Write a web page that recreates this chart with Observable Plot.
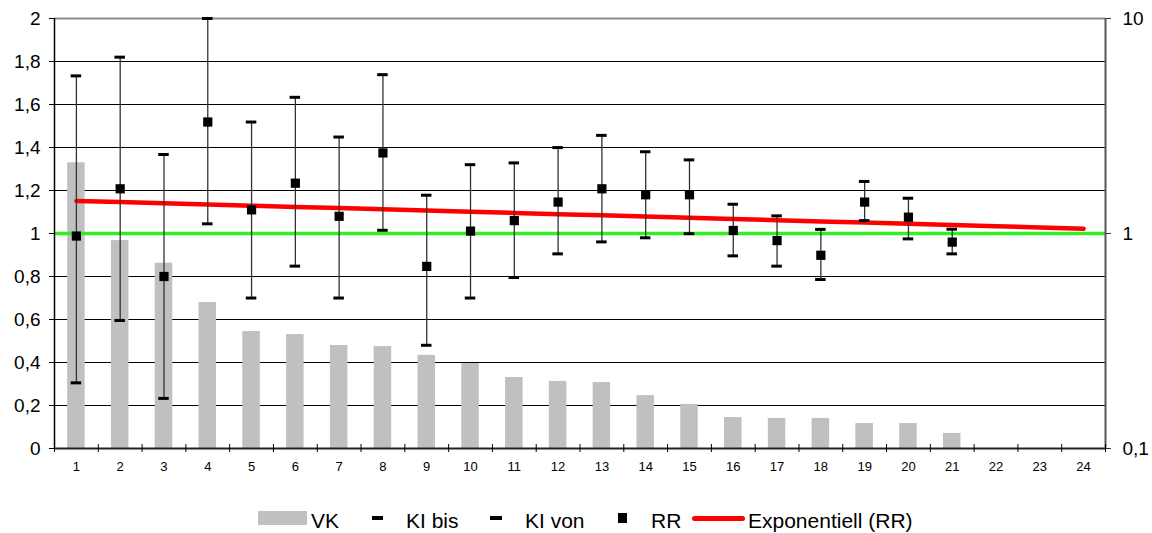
<!DOCTYPE html>
<html>
<head>
<meta charset="utf-8">
<script src="https://cdn.jsdelivr.net/npm/d3@7"></script>
<script src="https://cdn.jsdelivr.net/npm/@observablehq/plot@0.6"></script>
<style>
  html, body { margin: 0; padding: 0; background: #fff; }
  #chart { width: 1152px; }
  #legend { position: relative; width: 1152px; height: 43px; font-family: "Liberation Sans", Arial, sans-serif; font-size: 21px; color: #000; }
  #legend .lbl { position: absolute; white-space: nowrap; line-height: 1; top: 20px; }
</style>
</head>
<body>
<div id="chart"></div>
<div id="legend"></div>
<script>
// ---- data ----
const categories = [1,2,3,4,5,6,7,8,9,10,11,12,13,14,15,16,17,18,19,20,21,22,23,24];
const vk    = [1.329,0.967,0.862,0.679,0.544,0.530,0.479,0.474,0.433,0.395,0.330,0.312,0.307,0.246,0.205,0.144,0.140,0.140,0.116,0.116,0.070,null,null,null];
const rr    = [0.973,1.614,0.631,3.30,1.288,1.714,1.202,2.37,0.703,1.026,1.148,1.40,1.614,1.514,1.514,1.033,0.927,0.792,1.40,1.191,0.912,null,null,null];
const kiBis = [5.41,6.61,2.33,10.0,3.30,4.30,2.81,5.48,1.507,2.09,2.13,2.51,2.86,2.40,2.20,1.368,1.208,1.045,1.746,1.459,1.047,null,null,null];
const kiVon = [0.202,0.394,0.171,1.109,0.501,0.705,0.501,1.035,0.302,0.501,0.624,0.804,0.914,0.955,0.998,0.787,0.705,0.611,1.148,0.944,0.804,null,null,null];
const leftTicks = [0,0.2,0.4,0.6,0.8,1,1.2,1.4,1.6,1.8,2];
const rightTicks = [0.1, 1, 10];
const rightTickLabels = ["0,1", "1", "10"];
const legendLabels = ["VK", "KI bis", "KI von", "RR", "Exponentiell (RR)"];

// right (log) axis 0.1..10 shares the plot height with left axis 0..2
const L = v => Math.log10(v) + 1;

const rows = categories.map((c, i) => ({cat: c, vk: vk[i], rr: rr[i], bis: kiBis[i], von: kiVon[i]}));
const withRR = rows.filter(d => d.rr != null);
const withVK = rows.filter(d => d.vk != null);

// Excel-style exponential trendline: ln(y) = a + b x (least squares)
const mx = d3.mean(withRR, d => d.cat);
const my = d3.mean(withRR, d => Math.log(d.rr));
const b = d3.sum(withRR, d => (d.cat - mx) * (Math.log(d.rr) - my)) / d3.sum(withRR, d => (d.cat - mx) ** 2);
const a = my - b * mx;
const trend = categories.map(c => ({cat: c, v: Math.exp(a + b * c)}));

const xDomain = [categories[0] - 0.5, categories[categories.length - 1] + 0.5];
const boundaries = categories.map(c => c - 0.5).concat([xDomain[1]]);
const comma = v => String(v).replace(".", ",");
const font = "Liberation Sans, Arial, sans-serif";
const rightPos = rightTicks.map(L);

const plot = Plot.plot({
  width: 1152,
  height: 490,
  marginLeft: 54,
  marginRight: 47,
  marginTop: 18,
  marginBottom: 42,
  style: {fontFamily: font, color: "#000", background: "#fff"},
  x: {type: "linear", domain: xDomain, label: null},
  y: {type: "linear", domain: [leftTicks[0], leftTicks[leftTicks.length - 1]], label: null},
  marks: [
    // gridlines
    Plot.ruleY(leftTicks.filter(v => v > 0 && v < 2), {stroke: "#000", strokeWidth: 1}),
    Plot.ruleY([leftTicks[leftTicks.length - 1]], {stroke: "#8c8c8c", strokeWidth: 2}),
    // VK bars
    Plot.rectY(withVK, {x1: d => d.cat - 0.2, x2: d => d.cat + 0.2, y: "vk", fill: "#c0c0c0"}),
    // reference line RR = 1
    Plot.ruleY([L(1)], {stroke: "#33ee22", strokeWidth: 3.5}),
    // trendline
    Plot.line(trend, {x: "cat", y: d => L(d.v), stroke: "#ff0000", strokeWidth: 4.5, strokeLinecap: "round"}),
    // error bars
    Plot.ruleX(withRR, {x: "cat", y1: d => L(d.von), y2: d => L(d.bis), stroke: "#333", strokeWidth: 1.3}),
    Plot.ruleY(withRR, {y: d => L(d.bis), x1: d => d.cat - 0.12, x2: d => d.cat + 0.12, stroke: "#000", strokeWidth: 3}),
    Plot.ruleY(withRR, {y: d => L(d.von), x1: d => d.cat - 0.12, x2: d => d.cat + 0.12, stroke: "#000", strokeWidth: 3}),
    // RR squares
    Plot.dot(withRR, {x: "cat", y: d => L(d.rr), symbol: "square", r: 5.2, fill: "#000", stroke: "none"}),
    // axes frame lines
    Plot.ruleX([xDomain[1]], {stroke: "#555", strokeWidth: 2}),
    Plot.ruleX([xDomain[0]], {stroke: "#000", strokeWidth: 1.5}),
    Plot.ruleY([leftTicks[0]], {stroke: "#222", strokeWidth: 2}),
    // left axis
    Plot.axisY({ticks: leftTicks, tickSize: 5, tickPadding: 9, tickFormat: comma, fontSize: 19, stroke: "#000", label: null}),
    // right axis (log)
    Plot.axisY({anchor: "right", ticks: rightPos, tickSize: 5, tickPadding: 12, label: null,
      tickFormat: v => rightTickLabels[rightPos.findIndex(t => Math.abs(t - v) < 1e-9)], fontSize: 19, stroke: "#333"}),
    // x axis: boundary ticks + category labels
    Plot.axisX({ticks: boundaries, tickSize: 4, tickFormat: () => "", stroke: "#000", label: null}),
    Plot.axisX({ticks: boundaries, tickSize: -4, tickFormat: () => "", stroke: "#000", label: null}),
    Plot.axisX({ticks: categories, tickSize: 0, tickPadding: 13, tickFormat: d => String(d), fontSize: 13, label: null})
  ]
});
document.getElementById("chart").appendChild(plot);

// legend
const lg = document.getElementById("legend");
const items = [
  {sw: {left: 258, w: 49, h: 14, bg: "#c0c0c0"}, text: 311},
  {sw: {left: 372, w: 11, h: 4, bg: "#000"}, text: 406},
  {sw: {left: 490, w: 12, h: 4, bg: "#000"}, text: 525},
  {sw: {left: 618, w: 9, h: 10, bg: "#000"}, text: 651},
  {sw: {left: 692, w: 53, h: 5, bg: "#ff0000", radius: 3}, text: 748}
];
items.forEach((it, i) => {
  const s = document.createElement("div");
  s.style.cssText = `position:absolute;left:${it.sw.left}px;top:${28 - it.sw.h / 2}px;width:${it.sw.w}px;height:${it.sw.h}px;background:${it.sw.bg};border-radius:${it.sw.radius || 0}px`;
  lg.appendChild(s);
  const t = document.createElement("div");
  t.className = "lbl";
  t.style.left = it.text + "px";
  t.textContent = legendLabels[i];
  lg.appendChild(t);
});
</script>
</body>
</html>
